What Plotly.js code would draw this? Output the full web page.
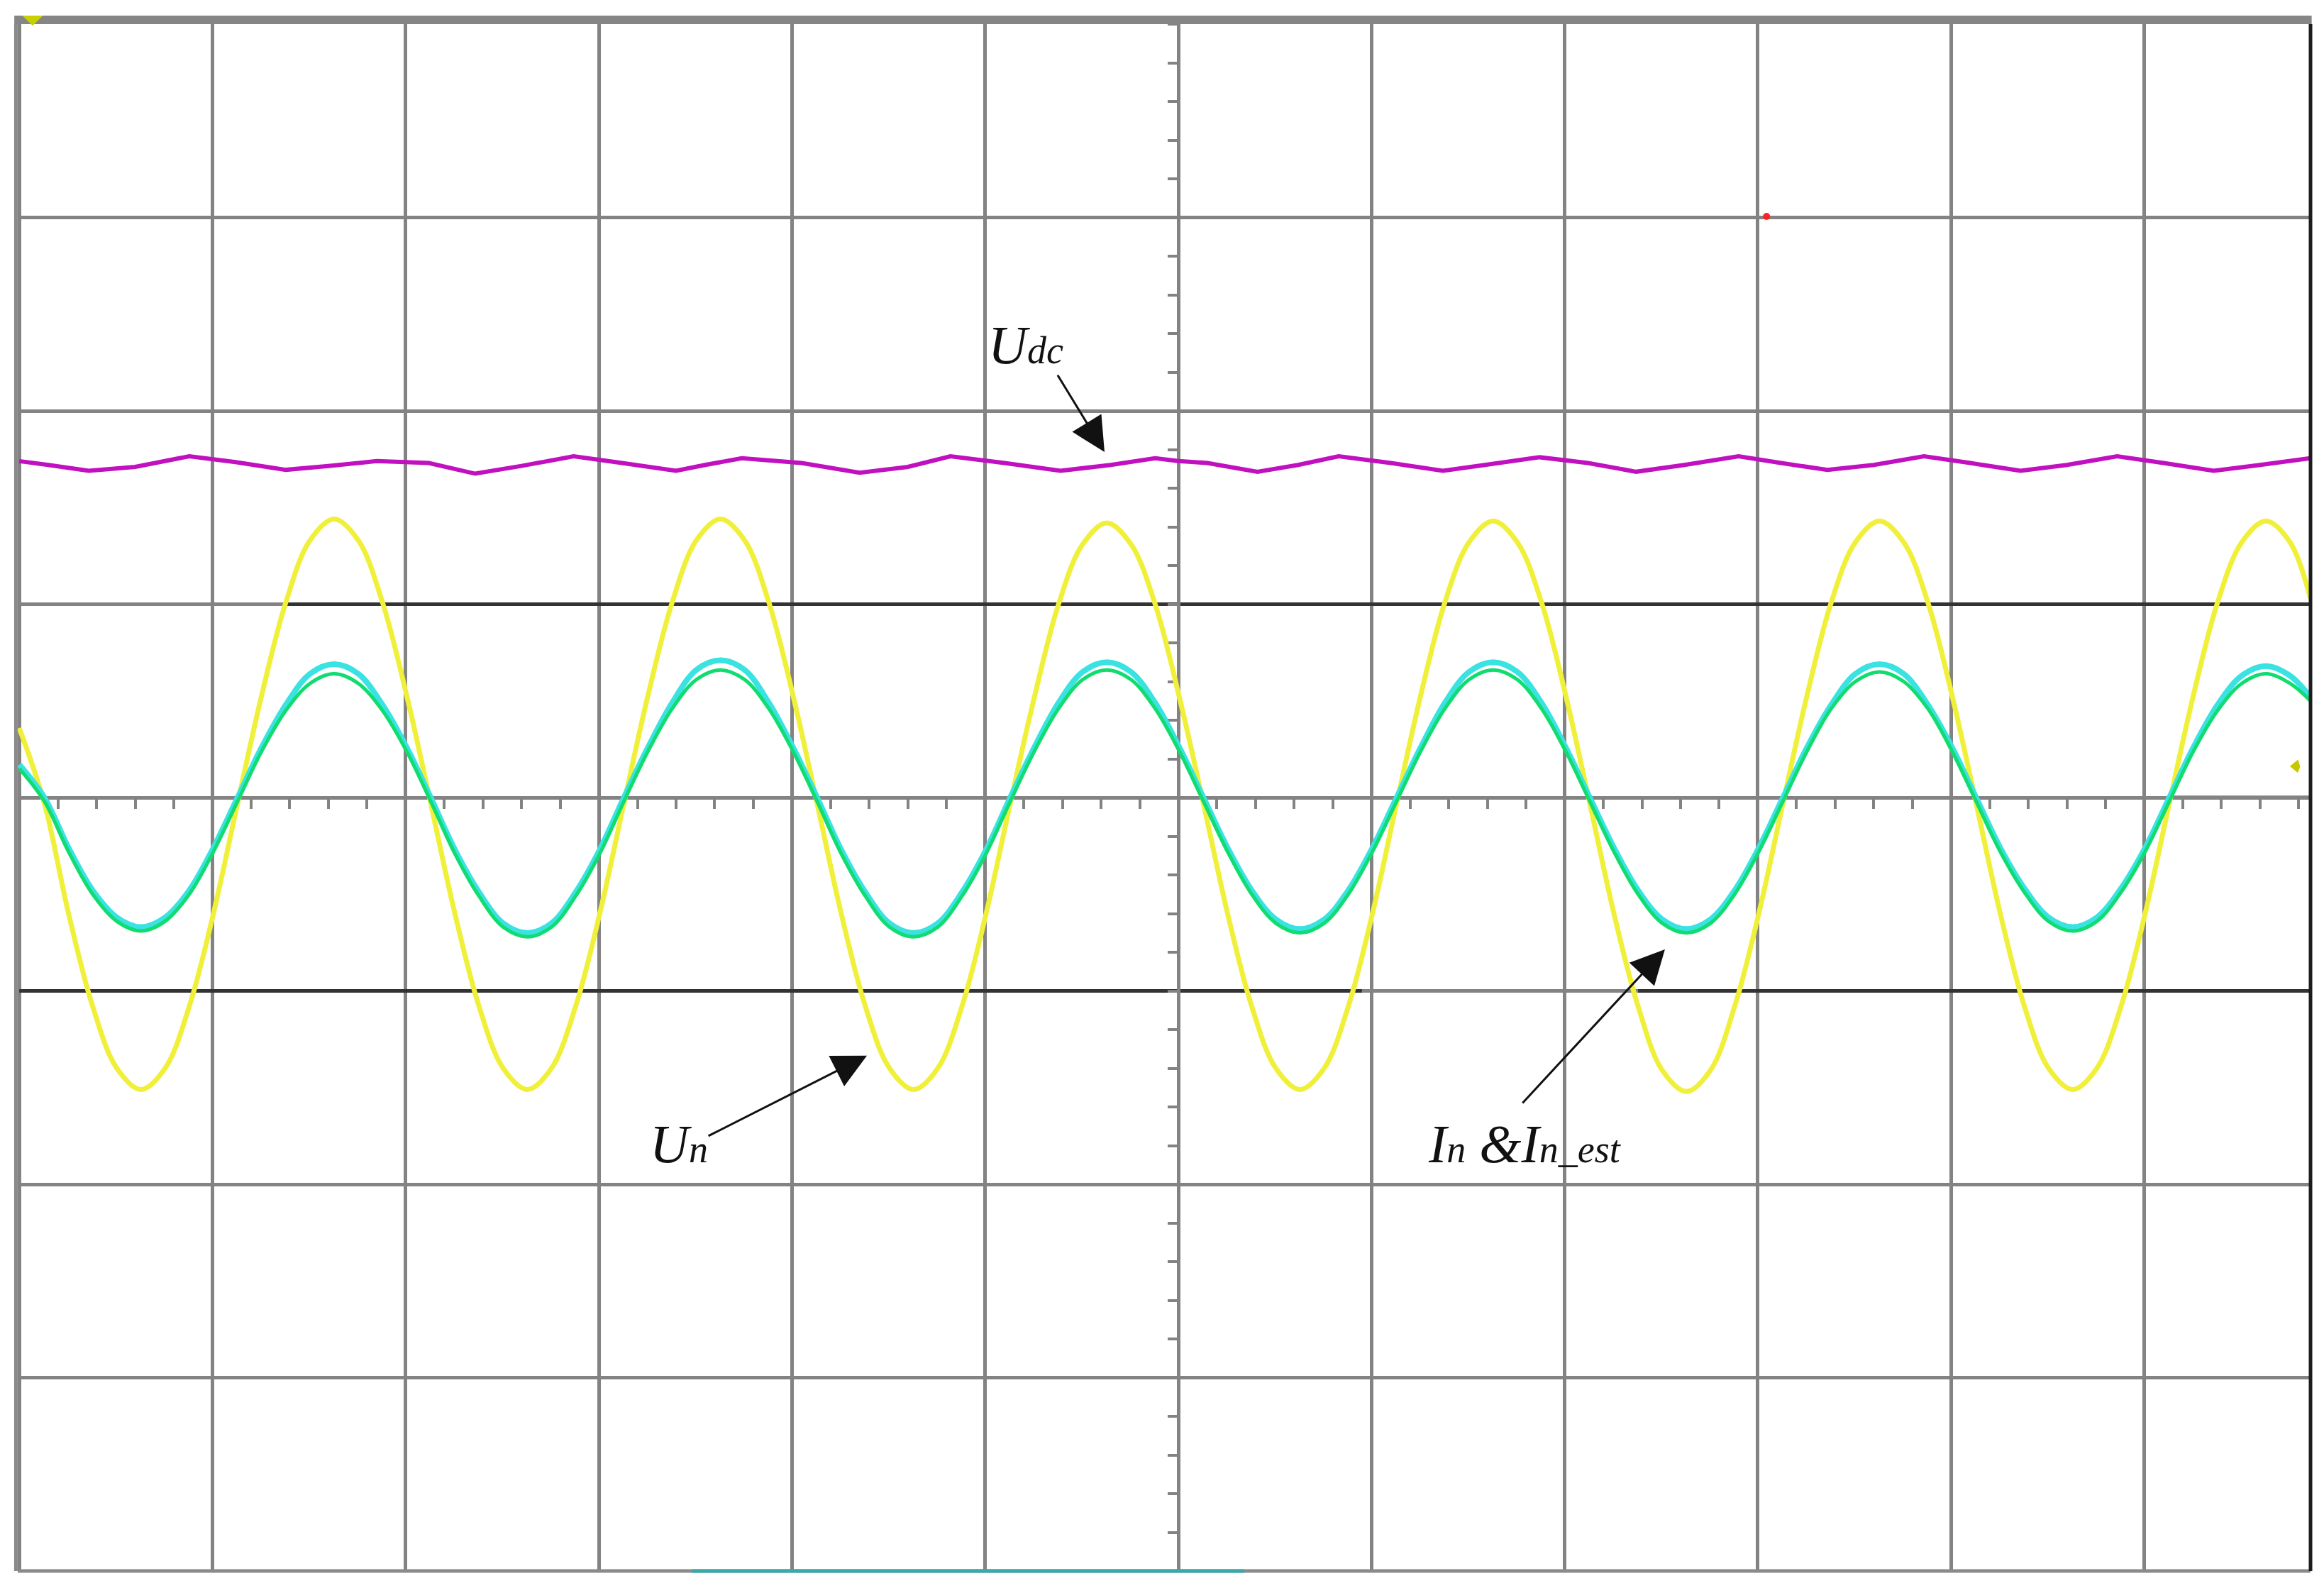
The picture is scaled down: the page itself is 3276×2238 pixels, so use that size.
<!DOCTYPE html>
<html>
<head>
<meta charset="utf-8">
<script src="https://cdn.plot.ly/plotly-3.0.1.min.js"></script>
<style>
  html, body { margin: 0; padding: 0; background: #ffffff; }
  #scope-chart { width: 3276px; height: 2238px; }
</style>
</head>
<body>
<div id="scope-chart"></div>
<script>
// time axis in screen divisions (0 = centre of the scope screen)
const timeDiv = [-6.0,
  -5.87, -5.745, -5.62, -5.495, -5.37, -5.245, -5.12, -4.995, -4.87, -4.745, -4.62, -4.495, -4.37, -4.245, -4.12, -3.995,
  -3.87, -3.745, -3.62, -3.495, -3.37, -3.245, -3.12, -2.995, -2.87, -2.745, -2.62, -2.495, -2.37, -2.245, -2.12, -1.995,
  -1.87, -1.745, -1.62, -1.495, -1.37, -1.245, -1.12, -0.995, -0.87, -0.745, -0.62, -0.495, -0.37, -0.245, -0.12, 0.005,
  0.13, 0.255, 0.38, 0.505, 0.63, 0.755, 0.88, 1.005, 1.13, 1.255, 1.38, 1.505, 1.63, 1.755, 1.88, 2.005,
  2.13, 2.255, 2.38, 2.505, 2.63, 2.755, 2.88, 3.005, 3.13, 3.255, 3.38, 3.505, 3.63, 3.755, 3.88, 4.005,
  4.13, 4.255, 4.38, 4.505, 4.63, 4.755, 4.88, 5.005, 5.13, 5.255, 5.38, 5.505, 5.63, 5.755,
  5.86];

// grid voltage Un (yellow), divisions
const unValues = [0.36,
  -0.03, -0.60, -1.08, -1.40, -1.51, -1.40, -1.08, -0.60, -0.03, 0.53, 1.01, 1.33, 1.44, 1.33, 1.01, 0.53,
  -0.03, -0.60, -1.08, -1.40, -1.51, -1.40, -1.08, -0.60, -0.03, 0.53, 1.01, 1.33, 1.44, 1.33, 1.01, 0.53,
  -0.03, -0.60, -1.08, -1.40, -1.51, -1.40, -1.08, -0.60, -0.03, 0.52, 1.00, 1.31, 1.42, 1.31, 1.00, 0.52,
  -0.03, -0.60, -1.08, -1.40, -1.51, -1.40, -1.08, -0.60, -0.03, 0.53, 1.01, 1.32, 1.43, 1.32, 1.01, 0.53,
  -0.03, -0.60, -1.08, -1.41, -1.52, -1.41, -1.08, -0.60, -0.03, 0.53, 1.01, 1.32, 1.43, 1.32, 1.01, 0.53,
  -0.03, -0.60, -1.08, -1.40, -1.51, -1.40, -1.08, -0.60, -0.03, 0.53, 1.01, 1.32, 1.43, 1.32,
  1.03];

// measured current In (green)
const inValues = [0.15,
  -0.02, -0.28, -0.50, -0.64, -0.69, -0.64, -0.50, -0.28, -0.02, 0.24, 0.45, 0.59, 0.64, 0.59, 0.45, 0.24,
  -0.02, -0.29, -0.51, -0.67, -0.72, -0.67, -0.51, -0.29, -0.02, 0.24, 0.46, 0.61, 0.66, 0.61, 0.46, 0.24,
  -0.02, -0.29, -0.51, -0.67, -0.72, -0.67, -0.51, -0.29, -0.02, 0.24, 0.46, 0.61, 0.66, 0.61, 0.46, 0.24,
  -0.02, -0.28, -0.50, -0.65, -0.70, -0.65, -0.50, -0.28, -0.02, 0.24, 0.46, 0.61, 0.66, 0.61, 0.46, 0.24,
  -0.02, -0.28, -0.50, -0.65, -0.70, -0.65, -0.50, -0.28, -0.02, 0.24, 0.46, 0.60, 0.65, 0.60, 0.46, 0.24,
  -0.02, -0.28, -0.49, -0.64, -0.69, -0.64, -0.49, -0.28, -0.02, 0.24, 0.45, 0.59, 0.64, 0.59,
  0.50];

// estimated current In_est (cyan)
const inEstValues = [0.17,
  0.00, -0.26, -0.48, -0.62, -0.67, -0.62, -0.48, -0.26, 0.00, 0.26, 0.48, 0.64, 0.69, 0.64, 0.48, 0.26,
  0.00, -0.27, -0.49, -0.65, -0.70, -0.65, -0.49, -0.27, 0.00, 0.26, 0.49, 0.66, 0.71, 0.66, 0.49, 0.26,
  0.00, -0.27, -0.49, -0.65, -0.70, -0.65, -0.49, -0.27, 0.00, 0.26, 0.49, 0.65, 0.70, 0.65, 0.49, 0.26,
  0.00, -0.26, -0.48, -0.63, -0.68, -0.63, -0.48, -0.26, 0.00, 0.26, 0.49, 0.65, 0.70, 0.65, 0.49, 0.26,
  0.00, -0.26, -0.48, -0.63, -0.68, -0.63, -0.48, -0.26, 0.00, 0.26, 0.48, 0.64, 0.69, 0.64, 0.48, 0.26,
  0.00, -0.26, -0.47, -0.62, -0.67, -0.62, -0.47, -0.26, 0.00, 0.26, 0.48, 0.63, 0.68, 0.63,
  0.52];

// DC link voltage Udc (magenta), ripple at twice the grid frequency
const udcTime = [-6.0, -5.85, -5.64, -5.40, -5.12, -4.88, -4.62, -4.40, -4.15,
  -3.88, -3.64, -3.40, -3.13, -2.88, -2.60, -2.45, -2.26, -1.95, -1.65, -1.40,
  -1.18, -0.90, -0.61, -0.35, -0.12, 0.0, 0.15, 0.41, 0.62, 0.83, 1.10, 1.37,
  1.62, 1.87, 2.12, 2.37, 2.62, 2.90, 3.12, 3.36, 3.60, 3.86, 4.10, 4.36,
  4.60, 4.86, 5.10, 5.36, 5.60, 5.86];
const udcValues = [1.74, 1.72, 1.69, 1.71, 1.765, 1.735, 1.695, 1.715, 1.74,
  1.73, 1.675, 1.715, 1.765, 1.73, 1.69, 1.72, 1.755, 1.73, 1.68, 1.71,
  1.765, 1.73, 1.69, 1.72, 1.755, 1.74, 1.73, 1.685, 1.72, 1.765, 1.73, 1.69,
  1.725, 1.76, 1.73, 1.685, 1.72, 1.765, 1.73, 1.695, 1.72, 1.765, 1.73, 1.69,
  1.72, 1.765, 1.73, 1.69, 1.72, 1.755];

const xRange = [-6.008, 5.861];
const yRange = [-4, 4];
const gridGray = '#838383';
const darkLine = '#333333';
const labelFont = { family: 'Liberation Serif, Times New Roman, serif', size: 76, color: '#111111' };

/** centre cross of the screen: axis line with small division ticks */
function centreAxis(extra) {
  return Object.assign({
    anchor: 'free',
    layer: 'below traces',
    showticklabels: false,
    zeroline: false,
    fixedrange: true,
    dtick: 1, tick0: 0,
    ticklen: 13, tickwidth: 4, tickcolor: gridGray,
  }, extra);
}

/** darker stretch of a graticule line (as on the scope screen) */
function darkSegment(x0, x1, y) {
  return { type: 'line', xref: 'x', yref: 'y', x0: x0, x1: x1, y0: y, y1: y, layer: 'between',
    line: { color: darkLine, width: 5 } };
}

function waveTrace(x, y, color, width, name) {
  return { x: x, y: y, mode: 'lines', name: name,
    line: { color: color, width: width, shape: 'spline', smoothing: 1, simplify: false } };
}

function plotScope() {
  const traces = [
    { x: udcTime, y: udcValues, mode: 'lines', name: 'Udc', line: { color: '#c010c0', width: 6, simplify: false } },
    waveTrace(timeDiv, unValues, '#f0f03a', 7, 'Un'),
    waveTrace(timeDiv, inEstValues, '#3ae2e2', 8, 'In_est'),
    waveTrace(timeDiv, inValues, '#10dc70', 5, 'In')
  ];

  const minorOut = { dtick: 0.2, tick0: 0, ticks: 'outside', ticklen: 13, tickwidth: 4, tickcolor: gridGray, showgrid: false };
  const minorIn = Object.assign({}, minorOut, { ticks: 'inside' });

  const layout = {
    width: 3276, height: 2238,
    margin: { l: 25, r: 19, t: 34, b: 24, pad: 0 },
    paper_bgcolor: '#ffffff',
    plot_bgcolor: '#ffffff',
    showlegend: false,
    xaxis: centreAxis({ range: xRange, position: 0.5, side: 'bottom', ticks: 'outside', minor: minorOut,
      showgrid: true, gridcolor: gridGray, gridwidth: 5, showline: true, linecolor: gridGray, linewidth: 5 }),
    xaxis2: centreAxis({ range: xRange, position: 0.5, overlaying: 'x', side: 'bottom', ticks: 'inside', minor: minorIn,
      showgrid: false, showline: false }),
    yaxis: centreAxis({ range: yRange, position: 0.5062, side: 'left', ticks: 'outside', minor: minorOut,
      showgrid: true, gridcolor: gridGray, gridwidth: 5, showline: true, linecolor: gridGray, linewidth: 5 }),
    yaxis2: centreAxis({ range: yRange, position: 0.5062, overlaying: 'y', side: 'left', ticks: 'inside', minor: minorIn,
      showgrid: false, showline: false }),
    shapes: [
      // screen frame
      { type: 'rect', xref: 'paper', yref: 'paper', x0: -0.0015, x1: 1.0005, y0: 1.0, y1: 1.0055, fillcolor: '#858585', line: { width: 0 } },
      { type: 'line', xref: 'paper', yref: 'paper', x0: -0.0008, x1: -0.0008, y0: 0, y1: 1, line: { color: '#8a8a8a', width: 5 } },
      { type: 'line', xref: 'paper', yref: 'paper', x0: 0, x1: 1, y0: 0, y1: 0, line: { color: '#8a8a8a', width: 5 } },
      { type: 'line', xref: 'paper', yref: 'paper', x0: 1, x1: 1, y0: 0, y1: 1, line: { color: '#1c1c1c', width: 5 } },
      // darker graticule stretches
      darkSegment(-4.62, 5.861, 1),
      darkSegment(-6.0, 0.95, -1),
      darkSegment(2.38, 5.861, -1),
      darkSegment(5.13, 5.861, 0),
      // scope overlay marks
      { type: 'line', xref: 'paper', yref: 'paper', x0: 0.294, x1: 0.535, y0: 0, y1: 0, line: { color: '#3aa9a9', width: 5 } },
      { type: 'circle', xref: 'paper', yref: 'paper', x0: 0.7612, x1: 0.7643, y0: 0.8734, y1: 0.8780, fillcolor: '#ff2020', line: { width: 0 } },
      { type: 'path', xref: 'paper', yref: 'paper', path: 'M 0.002 1.0055 L 0.011 1.0055 L 0.0065 0.999 Z', fillcolor: '#c8d000', line: { width: 0 } },
      { type: 'path', xref: 'paper', yref: 'paper', path: 'M 0.991 0.5202 L 0.9945 0.5245 L 0.9955 0.5202 L 0.9945 0.5159 Z', fillcolor: '#c8c800', line: { width: 0 } }
    ],
    annotations: [
      // arrows
      { x: -0.382, y: 1.787, ax: -0.628, ay: 2.19, axref: 'x', ayref: 'y', xref: 'x', yref: 'y', text: '',
        showarrow: true, arrowhead: 2, arrowsize: 3.2, arrowwidth: 3, arrowcolor: '#111111', standoff: 0 },
      { x: -1.612, y: -1.335, ax: -2.438, ay: -1.753, axref: 'x', ayref: 'y', xref: 'x', yref: 'y', text: '',
        showarrow: true, arrowhead: 2, arrowsize: 3.2, arrowwidth: 3, arrowcolor: '#111111', standoff: 0 },
      { x: 2.519, y: -0.785, ax: 1.777, ay: -1.585, axref: 'x', ayref: 'y', xref: 'x', yref: 'y', text: '',
        showarrow: true, arrowhead: 2, arrowsize: 3.2, arrowwidth: 3, arrowcolor: '#111111', standoff: 0 },
      // labels
      { x: -0.99, y: 2.181, xref: 'x', yref: 'y', xanchor: 'left', yanchor: 'bottom', showarrow: false, font: labelFont,
        text: '<i>U</i><span style="font-size:54px"><i>dc</i></span>' },
      { x: -2.745, y: -1.953, xref: 'x', yref: 'y', xanchor: 'left', yanchor: 'bottom', showarrow: false, font: labelFont,
        text: '<i>U</i><span style="font-size:54px"><i>n</i></span>' },
      { x: 1.285, y: -1.953, xref: 'x', yref: 'y', xanchor: 'left', yanchor: 'bottom', showarrow: false, font: labelFont,
        text: '<i>I</i><span style="font-size:54px"><i>n</i></span> <i>&amp;I</i><span style="font-size:54px"><i>n</i>_<i>est</i></span>' }
    ]
  };

  Plotly.newPlot('scope-chart', traces, layout, { displayModeBar: false, staticPlot: true });
}

plotScope();
</script>
</body>
</html>
